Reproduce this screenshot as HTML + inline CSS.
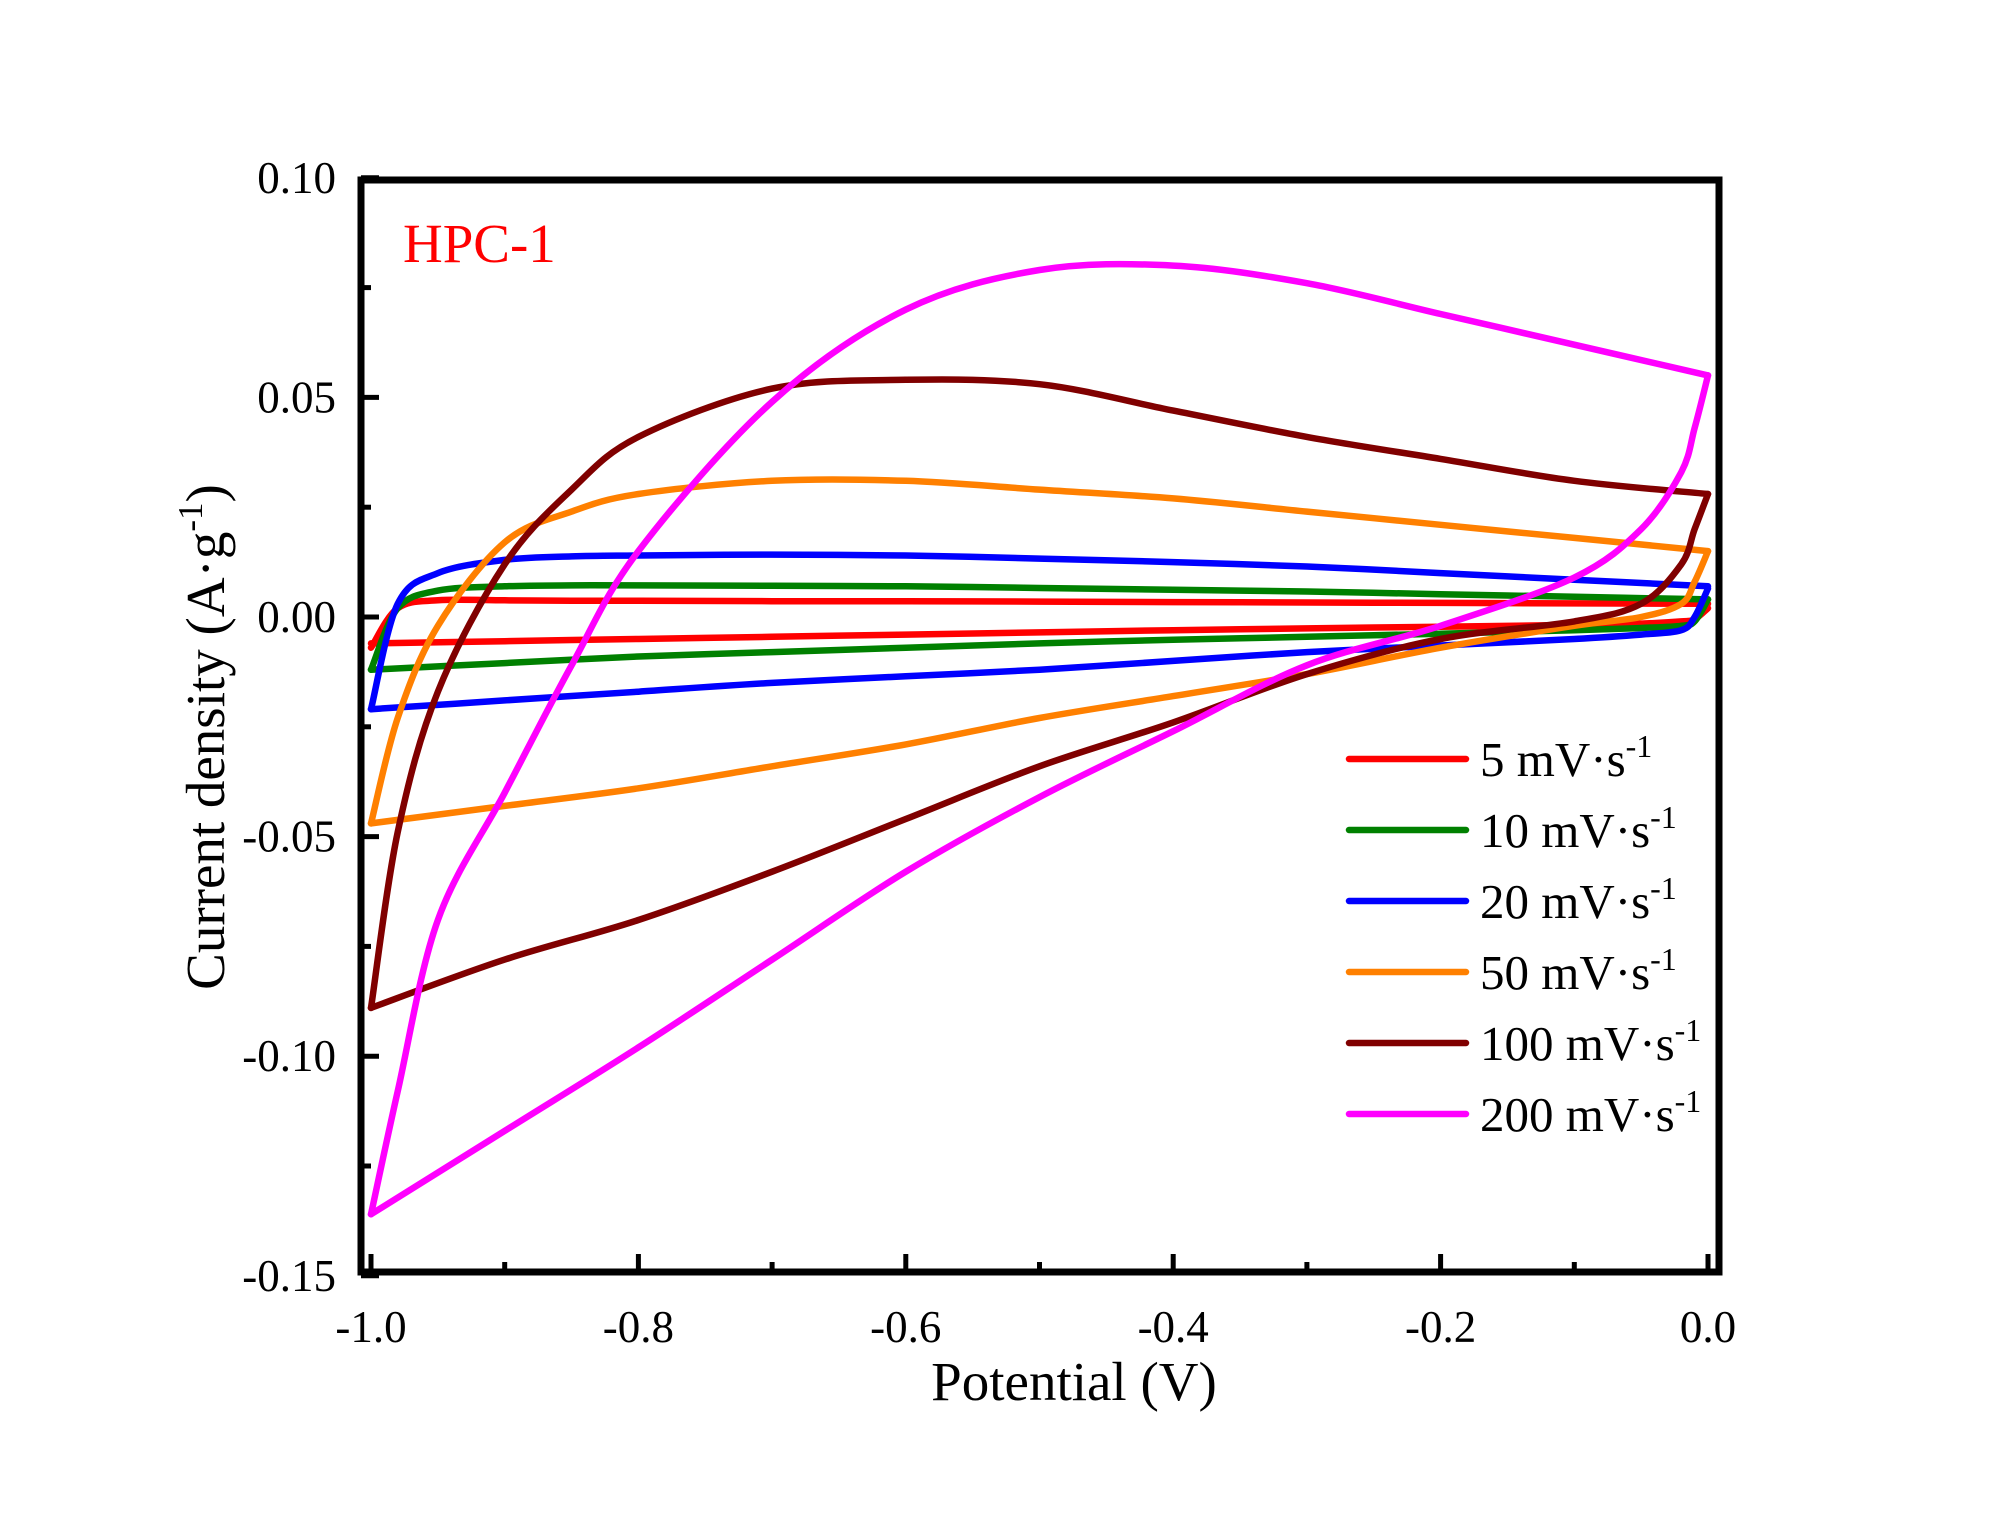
<!DOCTYPE html>
<html><head><meta charset="utf-8"><style>
html,body{margin:0;padding:0;background:#fff;}
svg{display:block;font-family:"Liberation Serif",serif;}
</style></head><body>
<svg id="chart" width="1999" height="1530" viewBox="0 0 1999 1530" xmlns="http://www.w3.org/2000/svg">
<g id="plot"></g>
<rect x="361" y="180" width="1358" height="1092" fill="none" stroke="#000" stroke-width="7"/>
<g id="axes"></g>
<text x="403" y="262" font-size="55" fill="#f00">HPC-1</text>
<text x="1074" y="1400" font-size="55" text-anchor="middle">Potential (V)</text>
<text transform="translate(224,737) rotate(-90)" font-size="55" text-anchor="middle">Current density (A·g<tspan dy="-22" font-size="35">-1</tspan><tspan dy="22">)</tspan></text>
<g id="legend"></g>
</svg>
<script>
const xTicks=[-1.0,-0.8,-0.6,-0.4,-0.2,0.0];
const xTickLabels=["-1.0","-0.8","-0.6","-0.4","-0.2","0.0"];
const yTicks=[0.10,0.05,0.00,-0.05,-0.10,-0.15];
const yTickLabels=["0.10","0.05","0.00","-0.05","-0.10","-0.15"];
const seriesNames=["5 mV·s","10 mV·s","20 mV·s","50 mV·s","100 mV·s","200 mV·s"];
const seriesColors=["#ff0000","#008000","#0000ff","#ff8000","#800000","#ff00ff"];
// anodic (forward) branch potentials / currents
const fwdV=[-1.0,-0.98,-0.95,-0.9,-0.85,-0.8,-0.7,-0.6,-0.5,-0.4,-0.3,-0.2,-0.1,0.0];
const s5Fwd=[-0.007,0.002,0.0038,0.0038,0.0037,0.0037,0.0036,0.0036,0.0035,0.0034,0.0033,0.0032,0.0031,0.003];
const s10Fwd=[-0.012,0.002,0.006,0.007,0.0072,0.0072,0.0071,0.007,0.0066,0.0062,0.0058,0.0052,0.0046,0.004];
const s20Fwd=[-0.021,0.003,0.010,0.013,0.0138,0.014,0.0142,0.014,0.0133,0.0125,0.0115,0.010,0.0085,0.007];
const s50Fwd=[-0.047,-0.023,-0.002,0.017,0.024,0.028,0.031,0.031,0.029,0.027,0.024,0.021,0.018,0.015];
const s100Fwd=[-0.089,-0.049,-0.017,0.012,0.029,0.041,0.052,0.054,0.053,0.047,0.041,0.036,0.031,0.028];
const s200Fwd=[-0.136,-0.108,-0.069,-0.040,-0.011,0.015,0.049,0.070,0.079,0.080,0.076,0.069,0.062,0.055];
// cathodic (reverse) branch
const revV=[0.0,-0.01,-0.02,-0.05,-0.1,-0.2,-0.3,-0.4,-0.5,-0.6,-0.7,-0.8,-0.9,-1.0];
const s5Rev=[0.002,-0.0005,-0.001,-0.0015,-0.0018,-0.0022,-0.0026,-0.003,-0.0035,-0.004,-0.0045,-0.005,-0.0055,-0.006];
const s10Rev=[0.004,-0.001,-0.002,-0.0025,-0.003,-0.0038,-0.0045,-0.0052,-0.006,-0.007,-0.008,-0.009,-0.0105,-0.012];
const s20Rev=[0.0065,0.000,-0.003,-0.004,-0.005,-0.0065,-0.008,-0.010,-0.012,-0.0135,-0.015,-0.017,-0.019,-0.021];
const s50Rev=[0.015,0.008,0.003,0.000,-0.002,-0.007,-0.013,-0.018,-0.023,-0.029,-0.034,-0.039,-0.043,-0.047];
const s100Rev=[0.028,0.020,0.012,0.003,-0.001,-0.005,-0.013,-0.024,-0.034,-0.046,-0.058,-0.069,-0.078,-0.089];
const s200Rev=[0.055,0.043,0.033,0.020,0.009,-0.002,-0.011,-0.026,-0.041,-0.058,-0.078,-0.098,-0.117,-0.136];
const fwdData=[s5Fwd,s10Fwd,s20Fwd,s50Fwd,s100Fwd,s200Fwd];
const revData=[s5Rev,s10Rev,s20Rev,s50Rev,s100Rev,s200Rev];

const NS="http://www.w3.org/2000/svg";
function xs(v){return 371+(v+1.0)*1337;}
function ys(v){return 617-v*4392;}
function mk(tag,attrs,parent){const e=document.createElementNS(NS,tag);for(const k in attrs)e.setAttribute(k,attrs[k]);parent.appendChild(e);return e;}
function smooth(pts){
  let d="M"+pts[0][0].toFixed(1)+","+pts[0][1].toFixed(1);
  for(let i=0;i<pts.length-1;i++){
    const p0=pts[Math.max(0,i-1)],p1=pts[i],p2=pts[i+1],p3=pts[Math.min(pts.length-1,i+2)];
    const c1=[p1[0]+(p2[0]-p0[0])/6,p1[1]+(p2[1]-p0[1])/6];
    const c2=[p2[0]-(p3[0]-p1[0])/6,p2[1]-(p3[1]-p1[1])/6];
    d+="C"+c1[0].toFixed(1)+","+c1[1].toFixed(1)+" "+c2[0].toFixed(1)+","+c2[1].toFixed(1)+" "+p2[0].toFixed(1)+","+p2[1].toFixed(1);
  }
  return d;
}
const plot=document.getElementById('plot');
for(let s=0;s<fwdData.length;s++){
  const f=fwdV.map((v,i)=>[xs(v),ys(fwdData[s][i])]);
  const r=revV.map((v,i)=>[xs(v),ys(revData[s][i])]);
  const p1=mk('path',{d:smooth(f),fill:'none',stroke:seriesColors[s],'stroke-width':6.5,'stroke-linejoin':'round','stroke-linecap':'round'},plot);
  
  
  const p2=mk('path',{d:smooth(r),fill:'none',stroke:seriesColors[s],'stroke-width':6.5,'stroke-linejoin':'round','stroke-linecap':'round'},plot);
  
  
}
const axes=document.getElementById('axes');
xTicks.forEach((v,i)=>{
  const t=mk('line',{x1:xs(v),x2:xs(v),y1:1272,y2:1254,stroke:'#000','stroke-width':5},axes);
  
  
  if(i<xTicks.length-1){const m=mk('line',{x1:xs(v+0.1),x2:xs(v+0.1),y1:1272,y2:1262,stroke:'#000','stroke-width':5},axes);
  
  }
  const l=mk('text',{x:xs(v),y:1342,'font-size':45,'text-anchor':'middle'},axes);
  l.textContent=xTickLabels[i];
  
  
});
yTicks.forEach((v,i)=>{
  const t=mk('line',{x1:361,x2:379,y1:ys(v),y2:ys(v),stroke:'#000','stroke-width':5},axes);
  
  
  if(i<yTicks.length-1){const m=mk('line',{x1:361,x2:371,y1:ys(v-0.025),y2:ys(v-0.025),stroke:'#000','stroke-width':5},axes);
  
  }
  const l=mk('text',{x:336,y:ys(v)+15,'font-size':45,'text-anchor':'end'},axes);
  l.textContent=yTickLabels[i];
  
  
});
const legend=document.getElementById('legend');
seriesNames.forEach((n,i)=>{
  const y=759+i*71;
  const ln=mk('line',{x1:1349,x2:1466,y1:y,y2:y,stroke:seriesColors[i],'stroke-width':6.5,'stroke-linecap':'round'},legend);
  
  
  const t=mk('text',{x:1480,y:y+17,'font-size':49},legend);
  t.textContent=n;
  const sup=mk('tspan',{dy:-19,'font-size':32},t);
  sup.textContent='-1';
  
  
});
</script>
</body></html>
